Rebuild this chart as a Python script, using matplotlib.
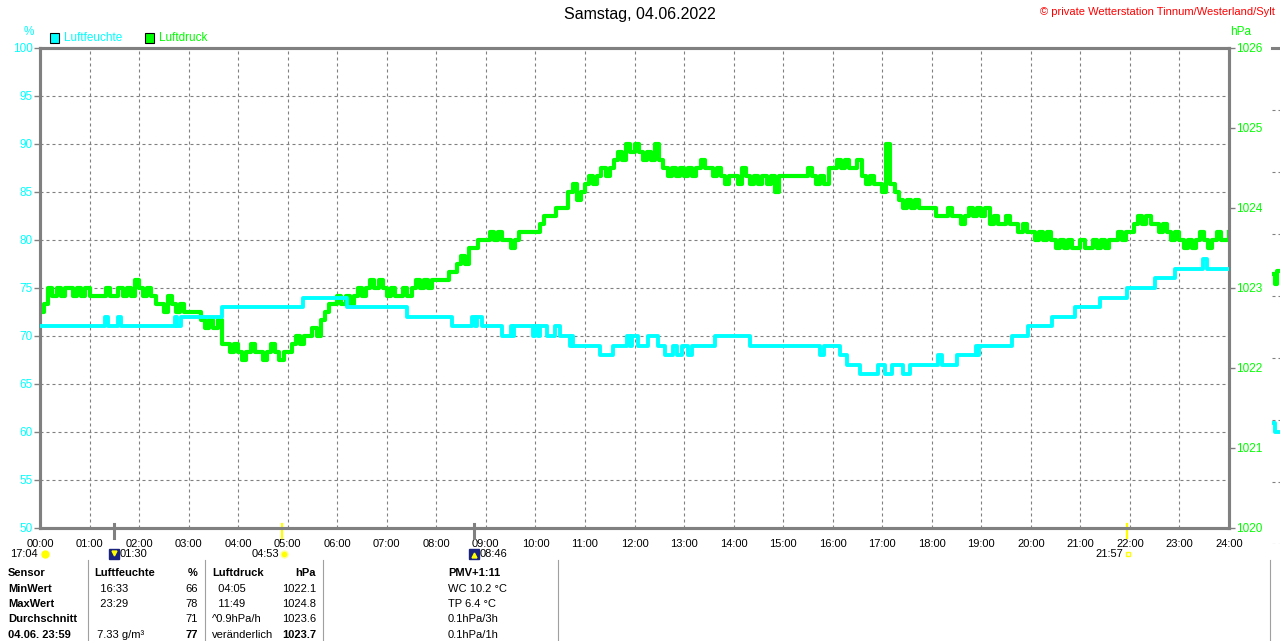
import matplotlib
matplotlib.use('Agg')
import matplotlib.pyplot as plt
from matplotlib.lines import Line2D

plt.rcParams['font.family'] = ['Liberation Sans', 'DejaVu Sans']

W, H = 1280, 641

title = 'Samstag, 04.06.2022'
credit = '\u00a9 private Wetterstation Tinnum/Westerland/Sylt'
hour_labels = ['%02d:00' % h for h in range(25)]

# humidity (%), step changes
hum_times = ['00:00', '01:19', '01:22', '01:35', '01:38', '02:43', '02:46', '02:51', '03:41', '05:19',
             '06:12', '07:25', '08:19', '08:43', '08:47', '08:49', '08:55', '09:20', '09:30', '09:32',
             '09:34', '09:57', '10:00', '10:03', '10:05', '10:14', '10:24', '10:30', '10:42', '10:44',
             '10:46', '11:18', '11:34', '11:51', '11:55', '11:57', '12:04', '12:16', '12:28', '12:37',
             '12:47', '12:51', '12:57', '13:05', '13:10', '13:38', '14:20', '15:45', '15:50', '16:09',
             '16:17', '16:33', '16:55', '17:03', '17:12', '17:25', '17:34', '18:08', '18:13', '18:31',
             '18:53', '18:55', '18:57', '19:37', '19:57', '20:26', '20:53', '21:24', '21:57', '22:30',
             '22:55', '23:29', '23:33', '24:00']
hum_vals = [71, 72, 71, 72, 71, 72, 71, 72, 73, 74,
            73, 72, 71, 72, 71, 72, 71, 70, 71, 70,
            71, 70, 71, 70, 71, 70, 71, 70, 69, 70,
            69, 68, 69, 70, 69, 70, 69, 70, 69, 68,
            69, 68, 69, 68, 69, 70, 69, 68, 69, 68,
            67, 66, 67, 66, 67, 66, 67, 68, 67, 68,
            69, 68, 69, 70, 71, 72, 73, 74, 75, 76,
            77, 78, 77, 77]

# pressure (hPa), every 5 minutes, one row per hour
press_rows = [
    [1022.7, 1022.8, 1023.0, 1022.9, 1023.0, 1022.9, 1023.0, 1023.0, 1022.9, 1023.0, 1022.9, 1023.0],
    [1022.9, 1022.9, 1022.9, 1022.9, 1023.0, 1022.9, 1022.9, 1023.0, 1022.9, 1023.0, 1022.9, 1023.1],
    [1023.0, 1022.9, 1023.0, 1022.9, 1022.8, 1022.8, 1022.7, 1022.9, 1022.8, 1022.7, 1022.8, 1022.7],
    [1022.7, 1022.7, 1022.7, 1022.6, 1022.5, 1022.6, 1022.5, 1022.6, 1022.3, 1022.3, 1022.2, 1022.3],
    [1022.2, 1022.1, 1022.2, 1022.3, 1022.2, 1022.2, 1022.1, 1022.2, 1022.3, 1022.2, 1022.1, 1022.2],
    [1022.2, 1022.3, 1022.4, 1022.3, 1022.4, 1022.4, 1022.5, 1022.4, 1022.6, 1022.7, 1022.8, 1022.8],
    [1022.9, 1022.8, 1022.9, 1022.8, 1022.9, 1023.0, 1022.9, 1023.0, 1023.1, 1023.0, 1023.1, 1023.0],
    [1022.9, 1023.0, 1022.9, 1022.9, 1023.0, 1022.9, 1023.0, 1023.1, 1023.0, 1023.1, 1023.0, 1023.1],
    [1023.1, 1023.1, 1023.1, 1023.2, 1023.2, 1023.3, 1023.4, 1023.3, 1023.5, 1023.5, 1023.6, 1023.6],
    [1023.6, 1023.7, 1023.6, 1023.7, 1023.6, 1023.6, 1023.5, 1023.6, 1023.7, 1023.7, 1023.7, 1023.7],
    [1023.7, 1023.8, 1023.9, 1023.9, 1023.9, 1024.0, 1024.0, 1024.0, 1024.2, 1024.3, 1024.1, 1024.2],
    [1024.3, 1024.4, 1024.3, 1024.4, 1024.5, 1024.4, 1024.5, 1024.6, 1024.7, 1024.6, 1024.8, 1024.7],
    [1024.8, 1024.7, 1024.6, 1024.7, 1024.6, 1024.8, 1024.6, 1024.5, 1024.4, 1024.5, 1024.4, 1024.5],
    [1024.4, 1024.5, 1024.4, 1024.5, 1024.6, 1024.5, 1024.5, 1024.4, 1024.5, 1024.4, 1024.3, 1024.4],
    [1024.4, 1024.3, 1024.5, 1024.4, 1024.3, 1024.4, 1024.3, 1024.4, 1024.3, 1024.4, 1024.2, 1024.4],
    [1024.4, 1024.4, 1024.4, 1024.4, 1024.4, 1024.4, 1024.5, 1024.4, 1024.3, 1024.4, 1024.3, 1024.5],
    [1024.5, 1024.6, 1024.5, 1024.6, 1024.5, 1024.5, 1024.6, 1024.4, 1024.3, 1024.4, 1024.3, 1024.3],
    [1024.2, 1024.8, 1024.3, 1024.2, 1024.1, 1024.0, 1024.1, 1024.0, 1024.1, 1024.0, 1024.0, 1024.0],
    [1024.0, 1023.9, 1023.9, 1023.9, 1024.0, 1023.9, 1023.9, 1023.8, 1023.9, 1024.0, 1023.9, 1024.0],
    [1023.9, 1024.0, 1023.8, 1023.9, 1023.8, 1023.8, 1023.9, 1023.8, 1023.8, 1023.7, 1023.8, 1023.7],
    [1023.7, 1023.6, 1023.7, 1023.6, 1023.7, 1023.6, 1023.5, 1023.6, 1023.5, 1023.6, 1023.5, 1023.5],
    [1023.6, 1023.5, 1023.5, 1023.6, 1023.5, 1023.6, 1023.5, 1023.6, 1023.6, 1023.7, 1023.6, 1023.7],
    [1023.7, 1023.8, 1023.9, 1023.8, 1023.9, 1023.8, 1023.8, 1023.7, 1023.8, 1023.7, 1023.6, 1023.7],
    [1023.6, 1023.5, 1023.6, 1023.5, 1023.6, 1023.7, 1023.6, 1023.5, 1023.6, 1023.7, 1023.6, 1023.6],
]
press_last = 1023.7

# sun / moon events below the time axis
event_times = ['01:30', '04:53', '08:46', '21:57']
event_kinds = ['moon', 'sun', 'moon', 'sun']

# bottom table
table_rows = [
    ['Sensor', 'Luftfeuchte', '%', 'Luftdruck', 'hPa', 'PMV+1:11'],
    ['MinWert', '  16:33', '66', '  04:05', '1022.1', 'WC 10.2 \u00b0C'],
    ['MaxWert', '  23:29', '78', '  11:49', '1024.8', 'TP 6.4 \u00b0C'],
    ['Durchschnitt', '', '71', '^0.9hPa/h', '1023.6', '0.1hPa/3h'],
    ['04.06. 23:59', ' 7.33 g/m\u00b3', '77', 'veränderlich', '1023.7', '0.1hPa/1h'],
]

# next chart peeking in at the right edge
edge_green = [4.35, 4.2, 4.4]
edge_cyan = [1.95, 1.8, 1.8]


def hours(s):
    h, m = s.split(':')
    return int(h) + int(m) / 60.0


def fx(x):
    return x / W


def fy(y):
    return 1 - y / H


GREY = '#808080'
CYAN = '#00ffff'
GREEN = '#00ff00'
FS = 8

fig = plt.figure(figsize=(12.8, 6.41), dpi=100)
ax = fig.add_axes([fx(40), fy(528), fx(1229) - fx(40), fy(48) - fy(528)])

hx = [hours(t) for t in hum_times]
ax.set_xlim(0, 24)
ax.set_ylim(50, 100)
ax.set_yticks(range(50, 101, 5))
ax.set_xticks(range(25))
ax.set_xticklabels(hour_labels)
ax.grid(True, color=GREY, linestyle=(0, (2.7, 2.7)), linewidth=0.8)
ax.tick_params(axis='y', colors=GREY, labelcolor=CYAN, direction='out', length=4, width=1,
               labelsize=8.5, pad=1)
ax.tick_params(axis='x', length=0, labelsize=FS, pad=8, labelcolor='black')
for s in ax.spines.values():
    s.set_color(GREY)
    s.set_linewidth(2.2)

ax2 = ax.twinx()
px = [i * 5 / 60.0 for i in range(24 * 12 + 1)]
pv = [v for row in press_rows for v in row] + [press_last]
ax2.plot(px, pv, color=GREEN, linewidth=3.0, drawstyle='steps-post', zorder=2)
ax2.set_ylim(1020, 1026)
ax2.set_yticks(range(1020, 1027))
ax2.tick_params(axis='y', colors=GREY, labelcolor=GREEN, direction='out', length=4, width=1,
                labelsize=8.5, pad=1)
for s in ax2.spines.values():
    s.set_color(GREY)
    s.set_linewidth(2.2)

# humidity on top of pressure
ax3 = ax.twinx()
ax3.set_ylim(50, 100)
ax3.axis('off')
ax3.plot(hx, hum_vals, color=CYAN, linewidth=2.8, drawstyle='steps-post', zorder=3)

# event markers
trans = ax.get_xaxis_transform()
for t, k in zip(event_times, event_kinds):
    x = hours(t)
    ax.plot([x, x], [0.009, -0.02], transform=trans, clip_on=False,
            color=GREY if k == 'moon' else '#ffff00', linewidth=2.2 if k == 'moon' else 1.6)

# rise/set labels
ev_y = fy(554)
fig.text(fx(10), ev_y, '17:04', fontsize=FS, va='center', ha='left')
fig.lines.append(Line2D([fx(45)], [ev_y], marker='o', markersize=5, color='#ffff00',
                        transform=fig.transFigure))
fig.lines.append(Line2D([fx(114)], [ev_y], marker='s', markersize=6.5, color='#1a237e',
                        transform=fig.transFigure))
fig.lines.append(Line2D([fx(114)], [fy(553)], marker='v', markersize=3.5, color='#ffff00',
                        transform=fig.transFigure))
fig.text(fx(120), ev_y, '01:30', fontsize=FS, va='center', ha='left')
fig.text(fx(279), ev_y, '04:53', fontsize=FS, va='center', ha='right')
fig.lines.append(Line2D([fx(284)], [ev_y], marker='o', markersize=5, color='#ffff00',
                        markeredgecolor='#ffff99', transform=fig.transFigure))
fig.lines.append(Line2D([fx(474)], [ev_y], marker='s', markersize=6.5, color='#1a237e',
                        transform=fig.transFigure))
fig.lines.append(Line2D([fx(474)], [fy(555)], marker='^', markersize=3.5, color='#ffff00',
                        transform=fig.transFigure))
fig.text(fx(480), ev_y, '08:46', fontsize=FS, va='center', ha='left')
fig.text(fx(1123), ev_y, '21:57', fontsize=FS, va='center', ha='right')
fig.lines.append(Line2D([fx(1128)], [ev_y], marker='s', markersize=3.5, markerfacecolor='none',
                        markeredgecolor='#ffff00', transform=fig.transFigure))

# titles
fig.text(0.5, fy(15), title, fontsize=11.5, ha='center', va='center')
fig.text(fx(1275), fy(12), credit, fontsize=8, ha='right', va='center', color='#ff0000')
fig.text(fx(29), fy(32), '%', fontsize=8.5, ha='center', va='center', color=CYAN)
fig.text(fx(1241), fy(32), 'hPa', fontsize=8.5, ha='center', va='center', color=GREEN)

# legend
for x0, name, col in [(50, 'Luftfeuchte', CYAN), (145, 'Luftdruck', GREEN)]:
    fig.patches.append(plt.Rectangle((fx(x0), fy(43)), fx(9), fy(33) - fy(43), facecolor=col,
                                     edgecolor='black', linewidth=0.8, transform=fig.transFigure))
    fig.text(fx(x0 + 14), fy(38), name, fontsize=8.5, va='center', ha='left', color=col)

# table
row_y = [573, 588.5, 604, 619.5, 634.5]
for i, row in enumerate(table_rows):
    y = fy(row_y[i])
    head = 'bold' if i == 0 else 'normal'
    last = 'bold' if i == 4 else head
    fig.text(fx(8), y, row[0], fontsize=FS, weight='bold', va='center')
    fig.text(fx(94), y, row[1], fontsize=FS, weight=head, va='center')
    fig.text(fx(198), y, row[2], fontsize=FS, weight=last, va='center', ha='right')
    fig.text(fx(212), y, row[3], fontsize=FS, weight=head, va='center')
    fig.text(fx(316), y, row[4], fontsize=FS, weight=last, va='center', ha='right')
    fig.text(fx(448), y, row[5], fontsize=FS, weight=head, va='center')
for x in [88, 205, 323, 558, 1270]:
    fig.lines.append(Line2D([fx(x), fx(x)], [fy(560), fy(641)], color='#a0a0a0', linewidth=0.8,
                            transform=fig.transFigure))

# sliver of the next chart
axe = fig.add_axes([fx(1272), fy(544), fx(1280) - fx(1272), fy(48) - fy(544)])
axe.set_xlim(0, 3)
axe.set_ylim(0, 8)
axe.plot([0, 1, 2, 3], edge_green + [edge_green[-1]], color=GREEN, linewidth=3, drawstyle='steps-post')
axe.plot([0, 1, 2, 3], edge_cyan + [edge_cyan[-1]], color=CYAN, linewidth=2.8, drawstyle='steps-post')
axe.set_yticks(range(9))
axe.set_xticks([])
axe.grid(True, axis='y', color=GREY, linestyle=(0, (2.7, 2.7)), linewidth=0.8)
axe.tick_params(length=0, labelleft=False)
for k, s in axe.spines.items():
    s.set_visible(k == 'top')
    s.set_color(GREY)
    s.set_linewidth(2.2)

fig.savefig('out.png', dpi=100)
